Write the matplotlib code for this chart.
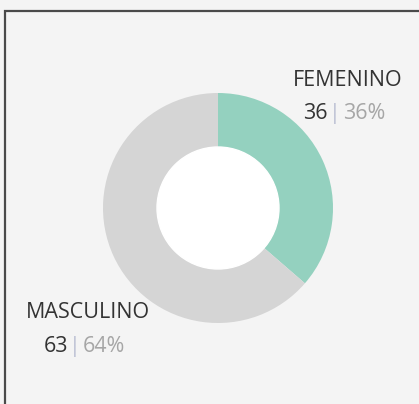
import matplotlib
matplotlib.use("Agg")
import matplotlib.pyplot as plt
from matplotlib.patches import Rectangle

categories = ["FEMENINO", "MASCULINO"]
values = [36, 63]
percent_labels = ["36%", "64%"]
colors = ["#94d1bf", "#d5d5d5"]

W, H = 419, 404
fig = plt.figure(figsize=(W / 100, H / 100), dpi=100)
fig.patch.set_facecolor("#f4f4f4")

def fx(px):
    return px / W

def fy(py):
    return 1 - py / H

# border
fig.patches.append(Rectangle((fx(4.5), fy(H + 5)), fx(W + 10), (H + 5 - 10.5) / H,
                             transform=fig.transFigure, fill=False,
                             edgecolor="#4a4a4a", linewidth=1.6, zorder=0))

cx, cy, R, r_in = 218, 208, 115, 61
ax = fig.add_axes([fx(cx - R), fy(cy + R), 2 * R / W, 2 * R / H])
ax.pie(values, colors=colors, startangle=90, counterclock=False, radius=1,
       wedgeprops=dict(width=(R - r_in) / R, linewidth=0))
ax.add_patch(plt.Circle((0, 0), r_in / R, color="white", zorder=3))
ax.set_xlim(-1, 1)
ax.set_ylim(-1, 1)
ax.set_aspect("auto")
ax.axis("off")

font = "Open Sans"
fs = 15.5
dark = "#333333"
grey = "#a6a6a6"
sep_c = "#bcc0d4"

# label positions (pixels): title center x, title baseline, separator x, value baseline
pos = [(348, 86, 335, 119), (88, 318, 75, 352)]
for cat, val, pct, (tx, tb, sx, vb) in zip(categories, values, percent_labels, pos):
    fig.text(fx(tx), fy(tb), cat, ha="center", va="baseline", fontsize=fs,
             family=font, color=dark)
    fig.text(fx(sx - 7), fy(vb), str(val), ha="right", va="baseline", fontsize=fs,
             family=font, color=dark)
    fig.text(fx(sx), fy(vb), "|", ha="center", va="baseline", fontsize=fs,
             family=font, color=sep_c)
    fig.text(fx(sx + 8), fy(vb), pct, ha="left", va="baseline", fontsize=fs,
             family=font, color=grey)

fig.savefig("out.png", dpi=100, facecolor=fig.get_facecolor())
